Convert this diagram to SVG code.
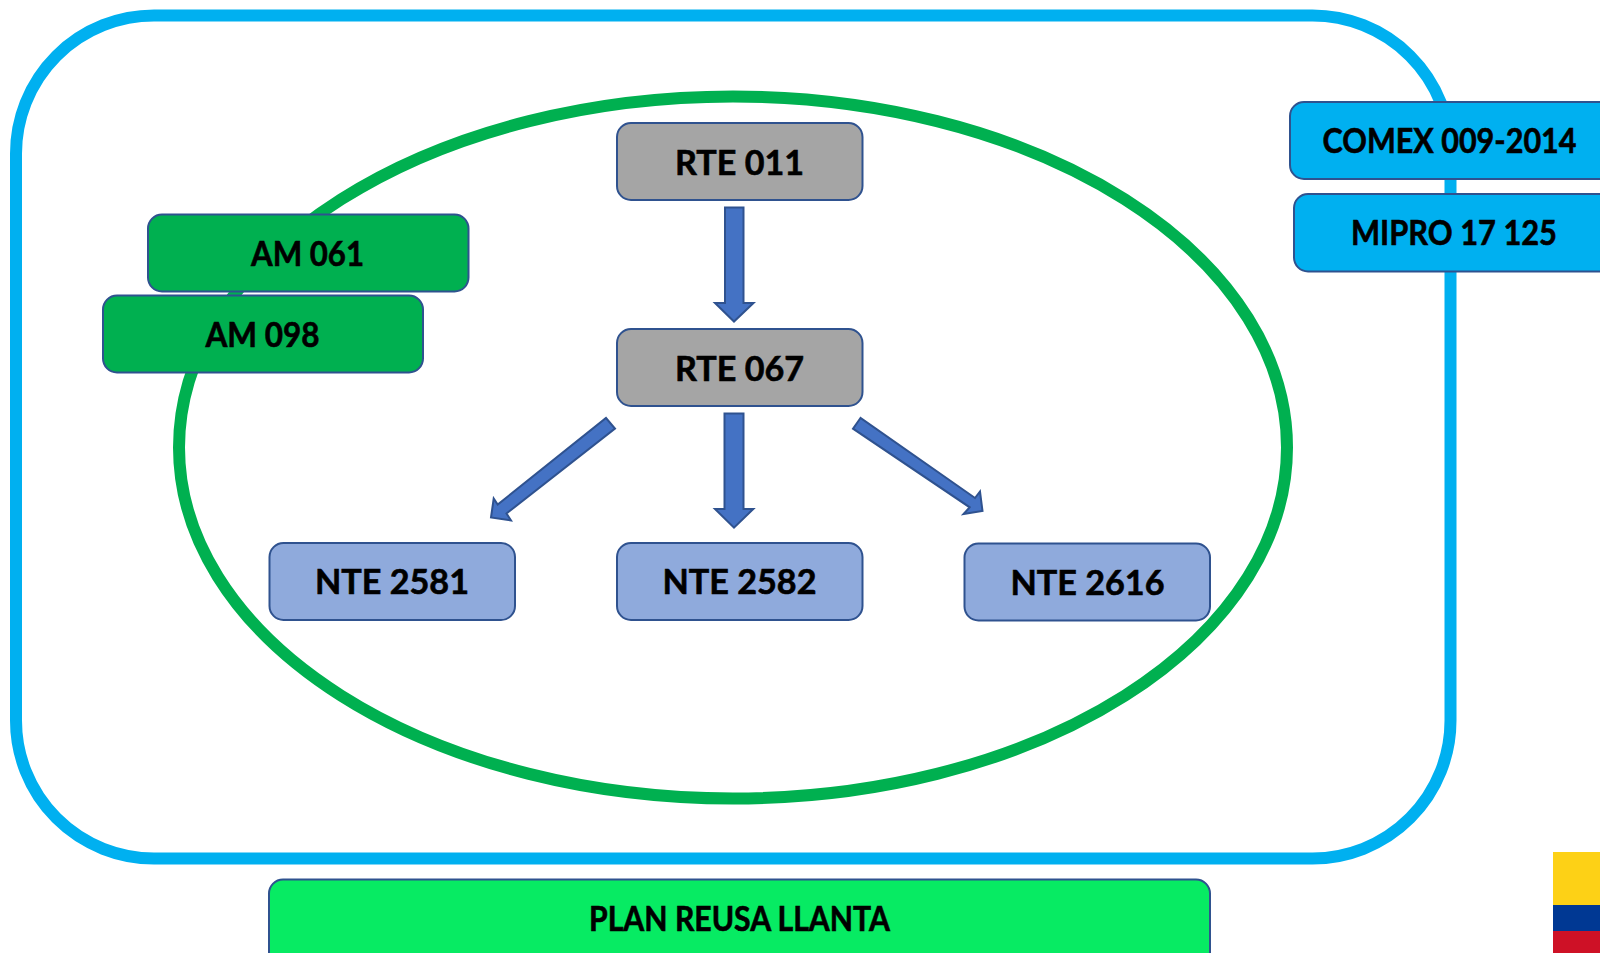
<svg xmlns="http://www.w3.org/2000/svg" width="1600" height="953" viewBox="0 0 1600 953">
<style>
.b{stroke:#2F528F;stroke-width:2}
.t{font-family:"Lato","Liberation Sans",sans-serif;font-weight:700;font-size:34.500px;fill:#000;stroke:#000;stroke-width:0.6;text-anchor:middle}
.a{fill:#4472C4;stroke:#2F528F;stroke-width:2}
.grey{fill:#A5A5A5}.lb{fill:#8FAADC}.g{fill:#00B050}.c{fill:#00B0F0}.pl{fill:#07EB63}
</style>
<rect width="1600" height="953" fill="#fff"/>
<g id="plan-frame"><rect x="16" y="15.500" width="1434.500" height="843" rx="138" fill="none" stroke="#00B0F0" stroke-width="12"/></g>
<g id="ellipse-frame"><ellipse cx="733" cy="447.500" rx="554" ry="351" fill="none" stroke="#00B050" stroke-width="12"/></g>
<g id="connectors">
<polygon class="a" points="725,207.500 743.500,207.500 743.500,303 753.500,303 734,321.500 715,303 725,303"/>
<polygon class="a" points="724.500,413.500 743.500,413.500 743.500,509 753.300,509 734,527.700 715,509 724.500,509"/>
<polygon class="a" points="606,418 615,428.500 506.500,513.500 511,520.500 491,517.500 493.700,498.500 497.700,504.500"/>
<polygon class="a" points="860.500,418 853,428.700 969.700,507.300 963.500,514 982.500,511 980,491.500 975,498"/>
</g>
<g id="rte011"><rect class="b grey" x="617" y="123" width="245.500" height="77" rx="14"/><text class="t" x="739.500" y="174.500" textLength="129" lengthAdjust="spacingAndGlyphs">RTE 011</text></g>
<g id="rte067"><rect class="b grey" x="617" y="329" width="245.500" height="77" rx="14"/><text class="t" x="739.500" y="380.500" textLength="129" lengthAdjust="spacingAndGlyphs">RTE 067</text></g>
<g id="nte2581"><rect class="b lb" x="269.500" y="543" width="245.500" height="77" rx="14"/><text class="t" x="392" y="594" textLength="154" lengthAdjust="spacingAndGlyphs">NTE 2581</text></g>
<g id="nte2582"><rect class="b lb" x="617" y="543" width="245.500" height="77" rx="14"/><text class="t" x="739.500" y="594" textLength="154" lengthAdjust="spacingAndGlyphs">NTE 2582</text></g>
<g id="nte2616"><rect class="b lb" x="964.500" y="543.500" width="245.500" height="77" rx="14"/><text class="t" x="1087.500" y="595" textLength="154" lengthAdjust="spacingAndGlyphs">NTE 2616</text></g>
<g id="am061"><rect class="b g" x="148" y="214.500" width="320.500" height="77" rx="14"/><text class="t" x="307.500" y="266" textLength="113" lengthAdjust="spacingAndGlyphs">AM 061</text></g>
<g id="am098"><rect class="b g" x="103" y="295.500" width="320" height="77" rx="14"/><text class="t" x="262.500" y="347" textLength="114" lengthAdjust="spacingAndGlyphs">AM 098</text></g>
<g id="comex"><rect class="b c" x="1290" y="102" width="340" height="77" rx="14"/><text class="t" x="1449.500" y="153" textLength="254" lengthAdjust="spacingAndGlyphs">COMEX 009-2014</text></g>
<g id="mipro"><rect class="b c" x="1294" y="194" width="340" height="77.500" rx="14"/><text class="t" x="1454" y="245" textLength="206" lengthAdjust="spacingAndGlyphs">MIPRO 17 125</text></g>
<g id="plan"><rect class="b pl" x="269" y="879.500" width="941" height="90" rx="14"/><text class="t" x="739.500" y="931" textLength="301" lengthAdjust="spacingAndGlyphs">PLAN REUSA LLANTA</text></g>
<g id="flag"><rect x="1553" y="852" width="47" height="53" fill="#FDD116"/><rect x="1553" y="905" width="47" height="26" fill="#003893"/><rect x="1553" y="931" width="47" height="22" fill="#CE1126"/></g>
</svg>
